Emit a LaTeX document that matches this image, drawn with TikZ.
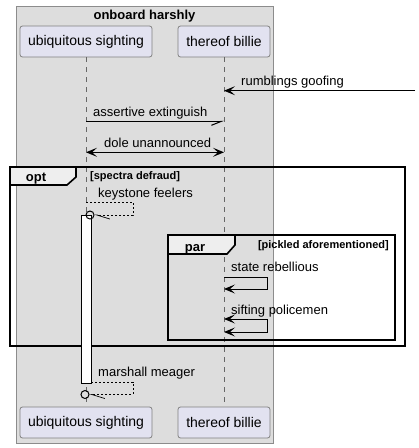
\documentclass[tikz,border=0pt]{standalone}
\usepackage{fontspec}
\setmainfont{Liberation Sans}
\usetikzlibrary{arrows.meta,positioning}
\definecolor{grpgray}{HTML}{DDDDDD}
\definecolor{partfill}{HTML}{E2E2F0}
\definecolor{tabfill}{HTML}{EEEEEE}

\begin{document}
\begin{tikzpicture}[x=1pt,y=-1pt,>={Stealth[length=11pt,width=9pt,inset=5pt]},
  part/.style={draw=black!50,line width=.8pt,fill=partfill,rounded corners=2.5pt,minimum height=31pt,inner sep=0pt,font=\fontsize{14}{16}\selectfont},
  life/.style={draw=black!60,line width=.7pt,dash pattern=on 5pt off 5pt},
  msg/.style={line width=1pt},
  ret/.style={line width=.7pt,dash pattern=on 2pt off 2pt},
  lbl/.style={anchor=base west,inner sep=0pt,font=\fontsize{13}{15}\selectfont},
  frame/.style={line width=1.6pt},
  tablbl/.style={anchor=base,inner sep=0pt,font=\bfseries\fontsize{13}{15}\selectfont},
  guard/.style={inner sep=0pt,font=\bfseries\fontsize{11}{13}\selectfont},
  lost/.style={draw,circle,line width=1pt,minimum size=8pt,inner sep=0pt}]
\useasboundingbox (0,0) rectangle (419,448);
% the box round both participants
\draw[fill=grpgray,draw=black!45] (16,6) rectangle (273,443);
\node[tablbl] (grptitle) at (144.5,19.5) {onboard harshly};

\node[part,minimum width=132pt] (us) at (86,41.5) {ubiquitous sighting};
\node[part,minimum width=92pt] (tb) at (224,41.5) {thereof billie};
\node[part,minimum width=132pt] (usb) at (86,422.5) {ubiquitous sighting};
\node[part,minimum width=92pt] (tbb) at (224,422.5) {thereof billie};
\draw[life] (us) -- (usb);
\draw[life] (tb) -- (tbb);

% incoming, plain messages
\coordinate (edge) at (415,90.7);
\draw[msg,->] (edge) -- (tb.south |- edge);
\node[lbl] (m1) at (241,85.5) {rumblings goofing};
\draw[msg,-{Straight Barb[right,length=10pt,width=8pt]}] (us.south |- 0,121.3) -- (tb.south |- 0,121.3);
\node[lbl] (m2) at (93,116.5) {assertive extinguish};
\draw[msg,<->] (us.south |- 0,152.3) -- (tb.south |- 0,152.3);
\node[lbl] (m3) at (104,147.3) {dole unannounced};

% opt frame
\coordinate (optNW) at (10,167); \coordinate (optSE) at (405,346);
\draw[frame,fill=tabfill] (optNW) -- ++(66,0) -- ++(0,10) -- ++(-9,8) -- ++(-57,0) -- cycle;
\draw[frame] (optNW) rectangle (optSE);
\node[tablbl] (optlbl) at (36,181.7) {opt};
\node[guard,anchor=base west] (optguard) at (90,179) {[spectra defraud]};

% activation and lost messages
\node[draw,fill=white,line width=.8pt,minimum width=10pt,minimum height=168pt,inner sep=0pt] (act) at (86,299) {};
\node[lost] (c1) at (90,215) {};
\draw[ret,-{Straight Barb[left,length=13pt,width=8pt]}] (us.south |- 0,202) -- ++(47,0) |- (c1);
\node[lbl] (m4) at (98,197) {keystone feelers};
\node[lost] (c2) at (85,394.5) {};
\draw[ret,-{Straight Barb[left,length=13pt,width=8pt]}] (act.east |- 0,382) -- (133,382) |- (c2);
\node[lbl] (m7) at (98,376) {marshall meager};

% par frame
\coordinate (parNW) at (168,235); \coordinate (parSE) at (395,340);
\draw[frame,fill=tabfill] (parNW) -- ++(67,0) -- ++(0,10) -- ++(-8,9) -- ++(-59,0) -- cycle;
\draw[frame] (parNW) rectangle (parSE);
\node[tablbl] (parlbl) at (195,251.7) {par};
\node[guard,anchor=base east] (parguard) at (389,248.3) {[pickled aforementioned]};

\draw[msg,->] (tb.south |- 0,277) -- ++(43,0) |- (tb.south |- 0,289);
\node[lbl] (m5) at (231,271) {state rebellious};
\draw[msg,<->] (tb.south |- 0,319) -- ++(43,0) |- (tb.south |- 0,332);
\node[lbl] (m6) at (231,314.3) {sifting policemen};
\end{tikzpicture}
\end{document}
